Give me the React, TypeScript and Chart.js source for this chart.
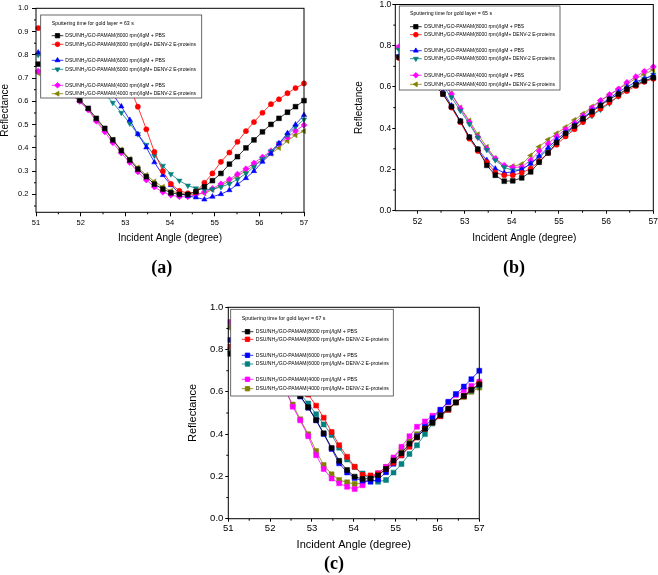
import React, { useEffect, useRef } from 'react';
import { Chart, registerables } from 'chart.js';
import { drawPoint } from 'chart.js/helpers';

Chart.register(...registerables);

// ---------- DATA ----------
const ANGLES = [51.05, 51.24, 51.42, 51.61, 51.79, 51.98, 52.17, 52.35, 52.54, 52.72, 52.91, 53.1, 53.28, 53.47, 53.65, 53.84, 54.02, 54.21, 54.4, 54.58, 54.77, 54.95, 55.14, 55.33, 55.51, 55.7, 55.88, 56.07, 56.26, 56.44, 56.63, 56.81, 57.0];

const SERIES_LABELS = [
  'DSU/NH2/GO-PAMAM(8000 rpm)/IgM + PBS',
  'DSU/NH2/GO-PAMAM(8000 rpm)/IgM+ DENV-2 E-proteins',
  'DSU/NH2/GO-PAMAM(6000 rpm)/IgM + PBS',
  'DSU/NH2/GO-PAMAM(6000 rpm)/IgM+ DENV-2 E-proteins',
  'DSU/NH2/GO-PAMAM(4000 rpm)/IgM + PBS',
  'DSU/NH2/GO-PAMAM(4000 rpm)/IgM+ DENV-2 E-proteins',
];

const TITLE_A = 'Sputtering time for gold layer = 63 s';
const TITLE_B = 'Sputtering time for gold layer = 65 s';
const TITLE_C = 'Sputtering time for gold layer = 67 s';
const X_TITLE = 'Incident Angle (degree)';
const Y_TITLE = 'Reflectance';

// Panel (a) – 63 s
const A_8000_PBS = [0.76, 0.735, 0.705, 0.673, 0.64, 0.605, 0.57, 0.527, 0.484, 0.434, 0.388, 0.348, 0.309, 0.276, 0.244, 0.223, 0.207, 0.2, 0.2, 0.212, 0.233, 0.259, 0.29, 0.33, 0.362, 0.4, 0.434, 0.469, 0.501, 0.527, 0.553, 0.577, 0.603];
const A_8000_DENV = [0.915, 0.91, 0.905, 0.895, 0.885, 0.87, 0.85, 0.83, 0.8, 0.765, 0.72, 0.66, 0.577, 0.48, 0.383, 0.3, 0.245, 0.215, 0.205, 0.21, 0.25, 0.29, 0.34, 0.38, 0.426, 0.472, 0.511, 0.551, 0.588, 0.609, 0.635, 0.657, 0.677];
const A_6000_PBS = [0.81, 0.8, 0.795, 0.785, 0.77, 0.75, 0.73, 0.7, 0.67, 0.63, 0.578, 0.52, 0.459, 0.402, 0.338, 0.283, 0.24, 0.204, 0.193, 0.187, 0.178, 0.19, 0.201, 0.218, 0.243, 0.27, 0.3, 0.34, 0.375, 0.419, 0.463, 0.5, 0.541];
const A_6000_DENV = [0.8, 0.79, 0.775, 0.76, 0.74, 0.72, 0.695, 0.665, 0.632, 0.594, 0.551, 0.505, 0.459, 0.413, 0.367, 0.323, 0.287, 0.259, 0.238, 0.226, 0.22, 0.222, 0.232, 0.245, 0.265, 0.29, 0.318, 0.352, 0.385, 0.42, 0.455, 0.49, 0.522];
const A_4000_PBS = [0.73, 0.71, 0.685, 0.66, 0.63, 0.6, 0.563, 0.515, 0.469, 0.422, 0.378, 0.337, 0.297, 0.262, 0.232, 0.21, 0.197, 0.19, 0.19, 0.198, 0.21, 0.225, 0.245, 0.265, 0.287, 0.31, 0.335, 0.36, 0.387, 0.418, 0.445, 0.473, 0.498];
const A_4000_DENV = [0.722, 0.7, 0.68, 0.655, 0.63, 0.6, 0.565, 0.52, 0.478, 0.435, 0.392, 0.352, 0.315, 0.283, 0.255, 0.232, 0.215, 0.205, 0.2, 0.2, 0.205, 0.22, 0.237, 0.257, 0.28, 0.3, 0.325, 0.35, 0.375, 0.4, 0.43, 0.455, 0.472];

// Panel (b) – 65 s
const B_8000_PBS = [null, null, 0.765, 0.745, 0.72, 0.69, 0.655, 0.615, 0.565, 0.505, 0.434, 0.357, 0.298, 0.22, 0.172, 0.143, 0.145, 0.159, 0.188, 0.235, 0.28, 0.33, 0.375, 0.41, 0.445, 0.48, 0.51, 0.54, 0.565, 0.59, 0.61, 0.63, 0.645];
const B_8000_DENV = [null, null, 0.76, 0.74, 0.715, 0.685, 0.65, 0.61, 0.566, 0.5, 0.429, 0.349, 0.29, 0.235, 0.185, 0.172, 0.172, 0.184, 0.204, 0.24, 0.28, 0.32, 0.36, 0.395, 0.43, 0.465, 0.495, 0.525, 0.555, 0.58, 0.605, 0.625, 0.64];
const B_6000_PBS = [null, null, 0.77, 0.75, 0.725, 0.695, 0.66, 0.62, 0.579, 0.51, 0.434, 0.357, 0.298, 0.245, 0.204, 0.184, 0.188, 0.2, 0.228, 0.265, 0.305, 0.345, 0.38, 0.415, 0.45, 0.485, 0.515, 0.545, 0.575, 0.6, 0.625, 0.64, 0.655];
const B_6000_DENV = [null, null, 0.8, 0.78, 0.755, 0.725, 0.69, 0.65, 0.605, 0.55, 0.485, 0.42, 0.355, 0.295, 0.245, 0.21, 0.196, 0.2, 0.228, 0.26, 0.295, 0.335, 0.37, 0.4, 0.43, 0.46, 0.49, 0.52, 0.555, 0.59, 0.615, 0.64, 0.66];
const B_4000_PBS = [null, null, 0.815, 0.795, 0.765, 0.735, 0.7, 0.665, 0.62, 0.566, 0.495, 0.43, 0.357, 0.3, 0.253, 0.22, 0.21, 0.212, 0.245, 0.29, 0.325, 0.36, 0.395, 0.425, 0.461, 0.498, 0.534, 0.563, 0.59, 0.622, 0.65, 0.676, 0.698];
const B_4000_DENV = [null, null, 0.805, 0.785, 0.76, 0.735, 0.705, 0.67, 0.625, 0.566, 0.5, 0.437, 0.37, 0.309, 0.253, 0.215, 0.216, 0.225, 0.268, 0.31, 0.345, 0.375, 0.405, 0.44, 0.47, 0.505, 0.535, 0.56, 0.59, 0.615, 0.64, 0.662, 0.683];

// Panel (c) – 67 s
const C_8000_PBS = [0.78, 0.775, 0.765, 0.755, 0.74, 0.725, 0.7, 0.665, 0.625, 0.58, 0.527, 0.467, 0.404, 0.335, 0.274, 0.23, 0.199, 0.188, 0.19, 0.205, 0.235, 0.275, 0.31, 0.355, 0.385, 0.425, 0.455, 0.49, 0.52, 0.55, 0.58, 0.61, 0.635];
const C_8000_DENV = [0.815, 0.805, 0.795, 0.785, 0.77, 0.755, 0.735, 0.71, 0.68, 0.64, 0.587, 0.535, 0.478, 0.41, 0.348, 0.293, 0.246, 0.207, 0.205, 0.21, 0.235, 0.265, 0.3, 0.34, 0.385, 0.425, 0.455, 0.485, 0.515, 0.55, 0.58, 0.61, 0.64];
const C_6000_PBS = [0.845, 0.83, 0.81, 0.79, 0.765, 0.74, 0.71, 0.67, 0.625, 0.578, 0.525, 0.465, 0.4, 0.33, 0.262, 0.219, 0.192, 0.18, 0.175, 0.185, 0.22, 0.26, 0.3, 0.345, 0.39, 0.435, 0.475, 0.515, 0.553, 0.59, 0.625, 0.66, 0.7];
const C_6000_DENV = [0.8, 0.79, 0.78, 0.765, 0.75, 0.73, 0.705, 0.675, 0.635, 0.59, 0.545, 0.494, 0.446, 0.396, 0.336, 0.28, 0.244, 0.214, 0.186, 0.175, 0.183, 0.218, 0.259, 0.306, 0.347, 0.4, 0.45, 0.485, 0.515, 0.55, 0.58, 0.605, 0.63];
const C_4000_PBS = [0.93, 0.915, 0.89, 0.86, 0.82, 0.77, 0.71, 0.62, 0.53, 0.465, 0.39, 0.3, 0.235, 0.19, 0.167, 0.151, 0.14, 0.158, 0.195, 0.215, 0.245, 0.29, 0.34, 0.39, 0.435, 0.46, 0.487, 0.515, 0.55, 0.585, 0.607, 0.628, 0.648];
const C_4000_DENV = [0.905, 0.885, 0.86, 0.83, 0.79, 0.74, 0.68, 0.61, 0.54, 0.47, 0.4, 0.32, 0.254, 0.21, 0.183, 0.172, 0.164, 0.168, 0.19, 0.215, 0.245, 0.285, 0.33, 0.365, 0.4, 0.43, 0.46, 0.49, 0.52, 0.55, 0.575, 0.6, 0.62];

// ---------- STYLE ----------
const COLORS = ['#000000', '#FF0000', '#0000FF', '#008080', '#FF00FF', '#808000'];
type Marker = { style: any; rot: number; r: number };
const MARKERS_AB: Marker[] = [
  { style: 'rect', rot: 0, r: 3.4 },
  { style: 'circle', rot: 0, r: 2.6 },
  { style: 'triangle', rot: 0, r: 3.1 },
  { style: 'triangle', rot: 180, r: 3.1 },
  { style: 'rectRot', rot: 0, r: 3.1 },
  { style: 'triangle', rot: 270, r: 3.1 },
];
const MARKERS_C: Marker[] = Array.from({ length: 6 }, () => ({ style: 'rect', rot: 0, r: 3.5 }));

const SANS = '"Liberation Sans", Arial, Helvetica, sans-serif';

type LegendCfg = {
  x: number; y: number; w: number; h: number;
  title: string; titleX: number; titleY: number; titleFont: number;
  rows: number[]; lineX0: number; lineX1: number; textX: number; font: number;
};

type PanelCfg = {
  left: number; top: number; w: number; h: number;
  area: { left: number; right: number; top: number; bottom: number };
  xMin: number; xMax: number; yMin: number; yMax: number; yStep: number; yMinor: number;
  tickFont: number; titleFont: number;
  xTickLen: number; xTickPad: number; yTickLen: number; yTickPad: number;
  xTitleCenter: number; yTitleCenter: number;
  series: (number | null)[][]; markers: Marker[]; legend: LegendCfg; clip: any;
};

function drawLabel(ctx: CanvasRenderingContext2D, text: string, x: number, y: number, size: number) {
  const idx = text.indexOf('NH2');
  ctx.font = `${size}px ${SANS}`;
  if (idx < 0) { ctx.fillText(text, x, y); return; }
  const a = text.slice(0, idx + 2);
  const b = text.slice(idx + 3);
  ctx.fillText(a, x, y);
  let cx = x + ctx.measureText(a).width;
  ctx.font = `${size * 0.72}px ${SANS}`;
  ctx.fillText('2', cx, y + size * 0.32);
  cx += ctx.measureText('2').width;
  ctx.font = `${size}px ${SANS}`;
  ctx.fillText(b, cx, y);
}

function makeLegendPlugin(cfg: LegendCfg, markers: Marker[]) {
  return {
    id: 'boxLegend',
    afterDatasetsDraw(chart: any) {
      const ctx: CanvasRenderingContext2D = chart.ctx;
      ctx.save();
      ctx.fillStyle = '#ffffff';
      ctx.fillRect(cfg.x, cfg.y, cfg.w, cfg.h);
      ctx.strokeStyle = '#444';
      ctx.lineWidth = 0.8;
      ctx.strokeRect(cfg.x, cfg.y, cfg.w, cfg.h);
      ctx.fillStyle = '#000';
      ctx.textBaseline = 'middle';
      ctx.textAlign = 'left';
      ctx.font = `${cfg.titleFont}px ${SANS}`;
      ctx.fillText(cfg.title, cfg.titleX, cfg.titleY);
      cfg.rows.forEach((ry, i) => {
        const col = COLORS[i];
        ctx.strokeStyle = col;
        ctx.lineWidth = 0.8;
        ctx.beginPath();
        ctx.moveTo(cfg.lineX0, ry);
        ctx.lineTo(cfg.lineX1, ry);
        ctx.stroke();
        ctx.fillStyle = col;
        ctx.strokeStyle = col;
        const m = markers[i];
        drawPoint(ctx, { pointStyle: m.style, rotation: m.rot, radius: m.r * 0.9, borderWidth: 0.5 } as any, (cfg.lineX0 + cfg.lineX1) / 2, ry);
        ctx.fillStyle = '#000';
        drawLabel(ctx, SERIES_LABELS[i], cfg.textX, ry, cfg.font);
      });
      ctx.restore();
    },
  };
}

function makeFramePlugin(minorX: number[], minorY: number[]) {
  return {
    id: 'frameMinor',
    afterDraw(chart: any) {
      const ctx: CanvasRenderingContext2D = chart.ctx;
      const a = chart.chartArea;
      ctx.save();
      ctx.strokeStyle = '#000';
      ctx.lineWidth = 1;
      ctx.strokeRect(a.left, a.top, a.right - a.left, a.bottom - a.top);
      ctx.beginPath();
      const xs = chart.scales.x;
      const ys = chart.scales.y;
      minorX.forEach((v) => {
        if (v < xs.min || v > xs.max) return;
        const px = xs.getPixelForValue(v);
        ctx.moveTo(px, a.bottom);
        ctx.lineTo(px, a.bottom + 2);
      });
      minorY.forEach((v) => {
        if (v < ys.min || v > ys.max) return;
        const py = ys.getPixelForValue(v);
        ctx.moveTo(a.left, py);
        ctx.lineTo(a.left - 2, py);
      });
      ctx.stroke();
      ctx.restore();
    },
  };
}

function buildChart(canvas: HTMLCanvasElement, p: PanelCfg) {
  const titleLH = p.titleFont * 1.2;
  const yPadLeft = p.yTitleCenter - titleLH / 2;
  const yWidth = p.area.left - yPadLeft;
  const xScaleBottom = p.xTitleCenter + titleLH / 2;
  const xHeight = xScaleBottom - p.area.bottom;

  const minorX: number[] = [];
  for (let v = Math.floor(p.xMin) + 0.5; v < p.xMax; v += 1) minorX.push(v);
  const minorY: number[] = [];
  for (let v = 0; v <= 1.0001; v += p.yMinor) {
    const r = Math.round(v * 1000) / 1000;
    const onMajor = Math.abs(r / p.yStep - Math.round(r / p.yStep)) < 1e-6;
    if (!onMajor) minorY.push(r);
  }

  const datasets = p.series.map((vals, i) => ({
    label: SERIES_LABELS[i],
    data: ANGLES.map((x, k) => ({ x, y: vals[k] })),
    borderColor: COLORS[i],
    backgroundColor: COLORS[i],
    borderWidth: 0.8,
    pointStyle: p.markers[i].style,
    rotation: p.markers[i].rot,
    pointRadius: p.markers[i].r,
    pointBackgroundColor: COLORS[i],
    pointBorderColor: COLORS[i],
    pointBorderWidth: 0.5,
    tension: 0,
    clip: p.clip,
  }));

  const tickFont = { family: SANS, size: p.tickFont };
  const titleFont = { family: SANS, size: p.titleFont };

  return new Chart(canvas, {
    type: 'line',
    data: { datasets } as any,
    options: {
      animation: false,
      responsive: false,
      maintainAspectRatio: false,
      events: [],
      layout: {
        padding: {
          left: yPadLeft,
          right: p.w - p.area.right,
          top: p.area.top,
          bottom: p.h - xScaleBottom,
        },
      },
      plugins: {
        legend: { display: false },
        tooltip: { enabled: false },
        title: { display: false },
      },
      scales: {
        x: {
          type: 'linear',
          min: p.xMin,
          max: p.xMax,
          afterFit: (s: any) => { s.height = xHeight; s.paddingLeft = 0; s.paddingRight = 0; },
          ticks: {
            stepSize: 1,
            includeBounds: false,
            autoSkip: false,
            maxRotation: 0,
            padding: p.xTickPad,
            color: '#000',
            font: tickFont,
            callback: (v: any) => String(Math.round(Number(v))),
          },
          grid: { display: true, drawOnChartArea: false, drawTicks: true, tickLength: p.xTickLen, tickColor: '#000', tickWidth: 1 },
          border: { display: false },
          title: { display: true, text: X_TITLE, color: '#000', font: titleFont, padding: 0 },
        },
        y: {
          type: 'linear',
          min: p.yMin,
          max: p.yMax,
          afterFit: (s: any) => { s.width = yWidth; s.paddingTop = 0; s.paddingBottom = 0; },
          ticks: {
            stepSize: p.yStep,
            includeBounds: false,
            autoSkip: false,
            padding: p.yTickPad,
            color: '#000',
            font: tickFont,
            callback: (v: any) => Number(v).toFixed(1),
          },
          grid: { display: true, drawOnChartArea: false, drawTicks: true, tickLength: p.yTickLen, tickColor: '#000', tickWidth: 1 },
          border: { display: false },
          title: { display: true, text: Y_TITLE, color: '#000', font: titleFont, padding: 0 },
        },
      },
    } as any,
    plugins: [makeLegendPlugin(p.legend, p.markers), makeFramePlugin(minorX, minorY)],
  });
}

const PANEL_A: PanelCfg = {
  left: 0, top: 0, w: 330, h: 285,
  area: { left: 36, right: 304, top: 8.3, bottom: 212.3 },
  xMin: 51, xMax: 57, yMin: 0.123, yMax: 1.0, yStep: 0.1, yMinor: 0.05,
  tickFont: 7.5, titleFont: 10,
  xTickLen: 4, xTickPad: 2.5, yTickLen: 4, yTickPad: 3.5,
  xTitleCenter: 238.7, yTitleCenter: 5.5,
  series: [A_8000_PBS, A_8000_DENV, A_6000_PBS, A_6000_DENV, A_4000_PBS, A_4000_DENV],
  markers: MARKERS_AB,
  clip: { left: 4, right: 4, top: 4, bottom: 4 },
  legend: {
    x: 40.7, y: 15, w: 161, h: 83,
    title: TITLE_A, titleX: 51.7, titleY: 23.3, titleFont: 5.2,
    rows: [35.7, 44.3, 60.3, 69.3, 85.3, 93.7], lineX0: 51.7, lineX1: 63.3, textX: 65.3, font: 5,
  },
};

const PANEL_B: PanelCfg = {
  left: 330, top: 0, w: 328, h: 285,
  area: { left: 65.3, right: 323.3, top: 3.3, bottom: 210.7 },
  xMin: 51.53, xMax: 57, yMin: 0, yMax: 1.0, yStep: 0.2, yMinor: 0.1,
  tickFont: 8.5, titleFont: 10,
  xTickLen: 3, xTickPad: 2.9, yTickLen: 3, yTickPad: 1,
  xTitleCenter: 238.7, yTitleCenter: 29.3,
  series: [B_8000_PBS, B_8000_DENV, B_6000_PBS, B_6000_DENV, B_4000_PBS, B_4000_DENV],
  markers: MARKERS_AB,
  clip: { left: 0, right: 4, top: 4, bottom: 4 },
  legend: {
    x: 69.3, y: 6, w: 160.7, h: 84,
    title: TITLE_B, titleX: 80, titleY: 14, titleFont: 5.2,
    rows: [26.7, 34.7, 50.7, 58.7, 75.3, 84.3], lineX0: 80, lineX1: 91.7, textX: 94.3, font: 5,
  },
};

const PANEL_C: PanelCfg = {
  left: 160, top: 290, w: 340, h: 285,
  area: { left: 68.3, right: 319.3, top: 17.3, bottom: 228.7 },
  xMin: 51, xMax: 57, yMin: 0, yMax: 1.0, yStep: 0.2, yMinor: 0.1,
  tickFont: 9.5, titleFont: 11,
  xTickLen: 3, xTickPad: 1.3, yTickLen: 3, yTickPad: 2,
  xTitleCenter: 255, yTitleCenter: 33.3,
  series: [C_8000_PBS, C_8000_DENV, C_6000_PBS, C_6000_DENV, C_4000_PBS, C_4000_DENV],
  markers: MARKERS_C,
  clip: { left: 4, right: 4, top: 4, bottom: 4 },
  legend: {
    x: 70.7, y: 19.3, w: 162.6, h: 86.7,
    title: TITLE_C, titleX: 81.7, titleY: 28.3, titleFont: 5.3,
    rows: [41.7, 49.3, 65.3, 74, 89.3, 98.7], lineX0: 81.7, lineX1: 93.3, textX: 95.7, font: 5.1,
  },
};

function Panel({ cfg }: { cfg: PanelCfg }) {
  const ref = useRef<HTMLCanvasElement>(null);
  useEffect(() => {
    const chart = buildChart(ref.current as HTMLCanvasElement, cfg);
    return () => chart.destroy();
  }, [cfg]);
  return (
    <canvas
      ref={ref}
      width={cfg.w}
      height={cfg.h}
      style={{ position: 'absolute', left: cfg.left, top: cfg.top, width: cfg.w, height: cfg.h }}
    />
  );
}

const labelStyle = (x: number, y: number): React.CSSProperties => ({
  position: 'absolute',
  left: x,
  top: y,
  transform: 'translate(-50%, -50%)',
  font: 'bold 18px "Liberation Serif", "Times New Roman", serif',
  color: '#000',
  whiteSpace: 'nowrap',
  lineHeight: 1,
});

export default function App() {
  return (
    <div style={{ position: 'absolute', left: 0, top: 0, width: 658, height: 575, background: '#fff', overflow: 'hidden' }}>
      <Panel cfg={PANEL_A} />
      <Panel cfg={PANEL_B} />
      <Panel cfg={PANEL_C} />
      <div style={labelStyle(161.7, 267)}>(a)</div>
      <div style={labelStyle(514, 267)}>(b)</div>
      <div style={labelStyle(334, 563)}>(c)</div>
    </div>
  );
}
